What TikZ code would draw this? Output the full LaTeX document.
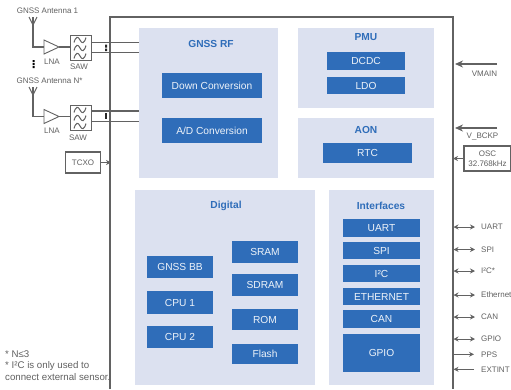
\documentclass[tikz,border=0pt]{standalone}
\usepackage{fontspec}
\setmainfont{Liberation Sans}
\usetikzlibrary{arrows.meta,positioning}
\definecolor{panel}{HTML}{DCE1F0}
\definecolor{blu}{HTML}{2F6DB9}
\definecolor{ln}{HTML}{626262}
\definecolor{tx}{HTML}{606060}
\tikzset{
 x=1pt,y=-1pt,
 blubox/.style={fill=blu,draw=none,text=white!92!blu,inner sep=0,font=\fontsize{10.2}{11}\selectfont},
 panelbox/.style={fill=panel,inner sep=0,anchor=north west},
 ptitle/.style={text=blu,font=\fontsize{10.2}{11}\selectfont\bfseries,inner sep=0},
 lab/.style={text=tx,inner sep=0,font=\fontsize{8}{9}\selectfont},
 wire/.style={draw=ln,line width=1.1pt},
 small/.style={draw=ln,line width=1pt,-{Stealth[length=5pt,width=5pt]}},
 bi/.style={draw=ln,line width=1pt,{Stealth[length=5pt,width=5pt]}-{Stealth[length=5pt,width=5pt]}},
 pow/.style={draw=ln,line width=1.3pt,-{Stealth[length=8pt,width=7pt]}},
 wbox/.style={draw=ln,line width=1.1pt,fill=white,inner sep=0,text=tx},
 lna/.style={draw=ln,line width=0.9pt,fill=white},
}
\newcommand{\saw}[2]{%
 \begin{scope}[shift={(#1,#2)}]
 \foreach \yy in {5,13,21}{
  \draw[ln,line width=1pt] (4,\yy+2.5) .. controls (6,\yy-4) and (8,\yy-4) .. (10,\yy) .. controls (12,\yy+4) and (14,\yy+4) .. (16,\yy-2.5);
 }
 \end{scope}}
\begin{document}
\begin{tikzpicture}
\useasboundingbox (0,0) rectangle (511,389);
% main box
\coordinate (mtl) at (110,17);
\coordinate (mtr) at (453,17);
\coordinate (mbl) at (110,389);
\coordinate (mbr) at (453,389);
\draw[wire] (mbl) -- (mtl) -- (mtr) -- (mbr);
% panels
\node[panelbox,minimum width=139,minimum height=150] (rf) at (139,28) {};
\node[panelbox,minimum width=136,minimum height=80] (pmu) at (298,28) {};
\node[panelbox,minimum width=136,minimum height=60] (aon) at (298,118) {};
\node[panelbox,minimum width=180,minimum height=195] (dig) at (135,190) {};
\node[panelbox,minimum width=105,minimum height=195] (ifc) at (329,190) {};
\node[ptitle] (t1) at (211,44) {GNSS RF};
\node[ptitle] (t2) at (366,37) {PMU};
\node[ptitle] (t3) at (366,130) {AON};
\node[ptitle] (t4) at (226,206) {Digital};
\node[ptitle] (t5) at (381,205.5) {Interfaces};
% blue boxes
\node[blubox,minimum width=100,minimum height=25] (down) at (212,85.5) {Down Conversion};
\node[blubox,minimum width=100,minimum height=25] (ad) at (212,130.5) {A/D Conversion};
\node[blubox,minimum width=78,minimum height=18] (dcdc) at (366,61) {DCDC};
\node[blubox,minimum width=78,minimum height=17] (ldo) at (366,85.5) {LDO};
\node[blubox,minimum width=89,minimum height=20] (rtc) at (367.5,153) {RTC};
\node[blubox,minimum width=66,minimum height=22] (bb) at (180,267) {GNSS BB};
\node[blubox,minimum width=66,minimum height=23] (c1) at (180,302.5) {CPU 1};
\node[blubox,minimum width=66,minimum height=22] (c2) at (180,337) {CPU 2};
\node[blubox,minimum width=66,minimum height=22] (sram) at (265,252) {SRAM};
\node[blubox,minimum width=66,minimum height=22] (sdram) at (265,285) {SDRAM};
\node[blubox,minimum width=66,minimum height=21] (rom) at (265,319.5) {ROM};
\node[blubox,minimum width=66,minimum height=20] (flash) at (265,354) {Flash};
\node[blubox,minimum width=77,minimum height=18] (uart) at (381.5,228) {UART};
\node[blubox,minimum width=77,minimum height=17] (spi) at (381.5,250.5) {SPI};
\node[blubox,minimum width=77,minimum height=17] (i2c) at (381.5,273.5) {I²C};
\node[blubox,minimum width=77,minimum height=17] (eth) at (381.5,296.5) {ETHERNET};
\node[blubox,minimum width=77,minimum height=18] (can) at (381.5,319) {CAN};
\node[blubox,minimum width=77,minimum height=38] (gpio) at (381.5,353) {GPIO};
% RF chain
\node[lab] (ant1) at (47.5,10.5) {GNSS  Antenna 1};
\node[lab] (ant2) at (49.5,80.5) {GNSS Antenna N*};
\coordinate (a1) at (33,17);
\coordinate (a2) at (33,47);
\coordinate (a3) at (33,87);
\coordinate (a4) at (33,116.5);
\draw[wire] (a1) -- (a2) -- (44,47);
\draw[wire] (a3) -- (a4) -- (44,116.5);
\foreach \yy in {17,87}{
 \draw[ln,line width=1.1pt] (33,\yy+8) -- (29,\yy) (33,\yy+8) -- (37,\yy);
}
\draw[lna] (44,40) -- (59,47) -- (44,54) -- cycle;
\draw[lna] (44,109.5) -- (59,116.5) -- (44,123.5) -- cycle;
\draw[wire] (59,47) -- (70,47);
\draw[wire] (59,116.5) -- (70,116.5);
\node[wbox,minimum width=21,minimum height=25,anchor=north west] (s1) at (69.5,35) {};
\node[wbox,minimum width=21,minimum height=25,anchor=north west] (s2) at (69.5,105) {};
\saw{70}{35}
\saw{70}{105}
\node[lab] (l1) at (52,61.5) {LNA};
\node[lab] (l2) at (52,131) {LNA};
\node[lab] (s1l) at (79,67) {SAW};
\node[lab] (s2l) at (78,138) {SAW};
\draw[wire] (91,42.5) -- (139,42.5);
\draw[wire] (91,52.7) -- (139,52.7);
\draw[wire] (91,111) -- (139,111);
\draw[wire] (91,121.7) -- (139,121.7);
\fill[black!85] (105,44.5) rectangle (107,47.5) (105,48.5) rectangle (107,51);
\fill[black!85] (105,113) rectangle (107,119);
\fill[black] (32.5,60) rectangle (34.5,62) (32.5,63) rectangle (34.5,65) (32.5,66) rectangle (34.5,68);
% TCXO
\node[wbox,minimum width=35,minimum height=21,font=\fontsize{8}{9}\selectfont] (tcxo) at (83,162.5) {TCXO};
\draw[small] (tcxo.east) -- (111,162.5);
% power
\coordinate (vm) at (497,64);
\coordinate (vme) at (455,64);
\draw[pow] (vm) -- (vme);
\node[lab] (vmt) at (484.5,73.5) {VMAIN};
\coordinate (vb) at (497,128);
\coordinate (vbe) at (455,128);
\draw[pow] (vb) -- (vbe);
\node[lab] (vbt) at (482.5,136) {V\_BCKP};
\node[wbox,minimum width=47,minimum height=25,align=center,font=\fontsize{8}{10}\selectfont] (osc) at (487.5,158.5) {OSC\\32.768kHz};
\draw[small] (osc.west) -- (453,158.5);
% I/O
\foreach \yy/\name in {227/UART,249.5/SPI,271/{I²C*},295/Ethernet,317/CAN,339/GPIO}{
 \draw[bi] (453.5,\yy) -- (475,\yy);
 \node[lab,anchor=west] at (481,\yy) {\name};
}
\draw[small] (453.5,354.3) -- (474,354.3);
\node[lab,anchor=west] (pps) at (481,354.3) {PPS};
\draw[small] (474,369.3) -- (453.5,369.3);
\node[lab,anchor=west] (ext) at (481,369.3) {EXTINT};
% notes
\node[lab,anchor=west,align=left,font=\fontsize{9.7}{11.5}\selectfont] (note) at (5,365.5) {* N≤3\\* I²C is only used to\\connect external sensor.};
\end{tikzpicture}
\end{document}
